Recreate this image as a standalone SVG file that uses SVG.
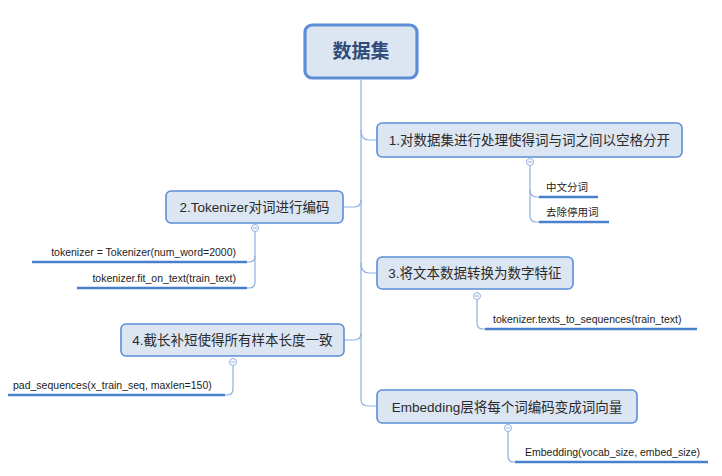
<svg xmlns="http://www.w3.org/2000/svg" width="722" height="476" viewBox="0 0 722 476">
<style>
.box{fill:#dce6f2;stroke:#5b8ed6;stroke-width:1.6}
.root{fill:#dce6f2;stroke:#5b8ed6;stroke-width:3.2}
.ln{fill:none;stroke:#8fb0e0;stroke-width:1.2}
.ul{fill:none;stroke:#4a7fcc;stroke-width:2.6}
.ct{fill:#fff;stroke:#8fb0e0;stroke-width:1}
.cm{stroke:#8fb0e0;stroke-width:1}
.t{font-family:"Liberation Sans","Noto Sans CJK SC",sans-serif;font-size:13.5px;fill:#2a2a2a;text-anchor:middle}
.rt{font-family:"Noto Sans CJK SC",sans-serif;font-size:19px;font-weight:bold;fill:#2f4c78;text-anchor:middle}
.lf{font-family:"Liberation Sans","Noto Sans CJK SC",sans-serif;font-size:10.5px;fill:#222}
</style>
<g id="connectors">
<path class="ln" d="M361 80 V399 Q361 406 368 406 H377"/>
<path class="ln" d="M361 130 Q361 140 369 140 H377"/>
<path class="ln" d="M343 207 H354 Q361 207 361 200"/>
<path class="ln" d="M361 263 Q361 273 369 273 H377"/>
<path class="ln" d="M344 340 H354 Q361 340 361 333"/>
<path class="ln" d="M530 166 V216 Q530 222 536 222 H540"/>
<path class="ln" d="M530 190 Q530 197 537 197 H540"/>
<path class="ln" d="M255 232 V282 Q255 288 249 288 H246"/>
<path class="ln" d="M255 256 Q255 262 249 262 H246"/>
<path class="ln" d="M477 300 V323 Q477 329 483 329 H486"/>
<path class="ln" d="M233 366 V389 Q233 395 227 395 H224"/>
<path class="ln" d="M508 432 V456 Q508 462 514 462 H517"/>
</g>
<g id="root">
<rect class="root" x="305" y="25" width="112" height="53" rx="7"/>
<text class="rt" x="361" y="58">数据集</text>
</g>
<g id="n1">
<rect class="box" x="377" y="123" width="305" height="34" rx="5"/>
<text class="t" x="529.5" y="145">1.对数据集进行处理使得词与词之间以空格分开</text>
<circle class="ct" cx="530" cy="162" r="3.5"/><line class="cm" x1="528" y1="162" x2="532" y2="162"/>
</g>
<g id="n1a">
<line class="ul" x1="539" y1="197" x2="598" y2="197"/>
<text class="lf" x="546" y="191">中文分词</text>
</g>
<g id="n1b">
<line class="ul" x1="539" y1="222" x2="609" y2="222"/>
<text class="lf" x="546" y="216">去除停用词</text>
</g>
<g id="n2">
<rect class="box" x="166" y="191" width="177" height="32" rx="5"/>
<text class="t" x="254.5" y="212">2.Tokenizer对词进行编码</text>
<circle class="ct" cx="255" cy="228" r="3.5"/><line class="cm" x1="253" y1="228" x2="257" y2="228"/>
</g>
<g id="n2a">
<line class="ul" x1="32" y1="262" x2="247" y2="262"/>
<text class="lf" x="236" y="256" text-anchor="end">tokenizer = Tokenizer(num_word=2000)</text>
</g>
<g id="n2b">
<line class="ul" x1="77" y1="288" x2="247" y2="288"/>
<text class="lf" x="236" y="282" text-anchor="end">tokenizer.fit_on_text(train_text)</text>
</g>
<g id="n3">
<rect class="box" x="377" y="257" width="196" height="32" rx="5"/>
<text class="t" x="475" y="278">3.将文本数据转换为数字特征</text>
<circle class="ct" cx="477" cy="296" r="3.5"/><line class="cm" x1="475" y1="296" x2="479" y2="296"/>
</g>
<g id="n3a">
<line class="ul" x1="485" y1="329" x2="697" y2="329"/>
<text class="lf" x="493" y="323">tokenizer.texts_to_sequences(train_text)</text>
</g>
<g id="n4">
<rect class="box" x="121" y="324" width="223" height="32" rx="5"/>
<text class="t" x="232.5" y="345">4.截长补短使得所有样本长度一致</text>
<circle class="ct" cx="233" cy="362" r="3.5"/><line class="cm" x1="231" y1="362" x2="235" y2="362"/>
</g>
<g id="n4a">
<line class="ul" x1="8" y1="395" x2="225" y2="395"/>
<text class="lf" x="13" y="389">pad_sequences(x_train_seq, maxlen=150)</text>
</g>
<g id="n5">
<rect class="box" x="377" y="390" width="260" height="33" rx="5"/>
<text class="t" x="507" y="411.5">Embedding层将每个词编码变成词向量</text>
<circle class="ct" cx="508" cy="428" r="3.5"/><line class="cm" x1="506" y1="428" x2="510" y2="428"/>
</g>
<g id="n5a">
<line class="ul" x1="515" y1="462" x2="708" y2="462"/>
<text class="lf" x="525" y="456">Embedding(vocab_size, embed_size)</text>
</g>
</svg>
